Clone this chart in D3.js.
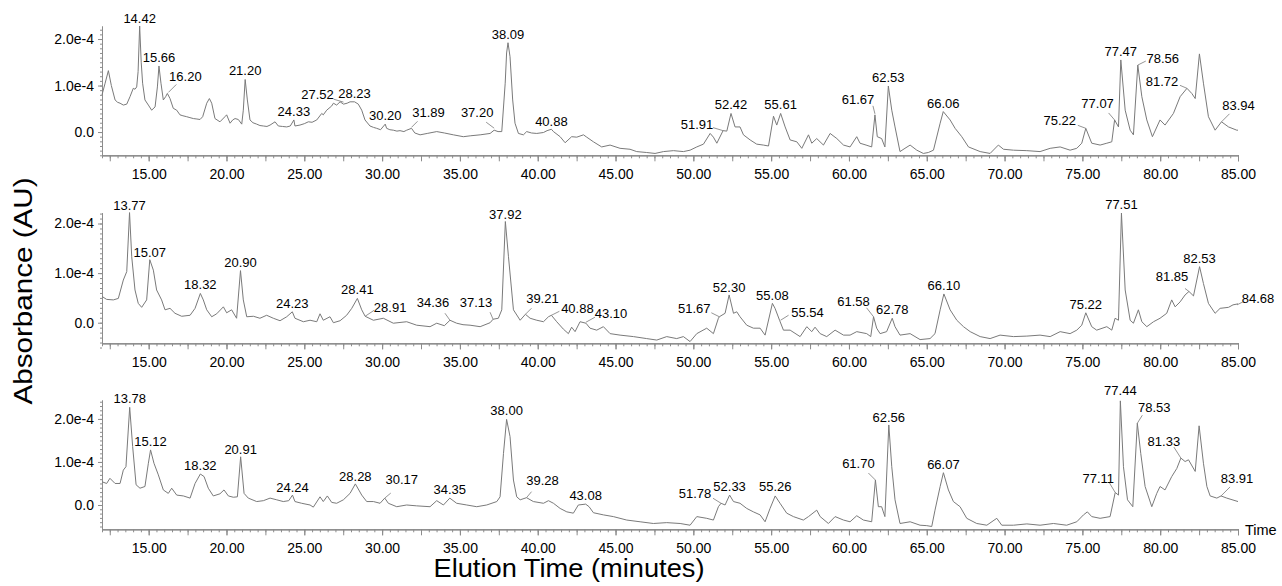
<!DOCTYPE html>
<html>
<head>
<meta charset="utf-8">
<script src="https://cdn.jsdelivr.net/npm/d3@7"></script>
<style>
  body { margin: 0; background: #fff; }
  svg { display: block; font-family: "Liberation Sans", Arial, Helvetica, sans-serif; }
</style>
</head>
<body>
<svg id="chart" width="1282" height="586"></svg>
<script>
// elution time (min), absorbance in units of 1e-4 AU
const run1 = [[12.0,0.80],[12.2,1.05],[12.41,1.32],[12.6,1.0],[12.84,0.69],[13.0,0.64],[13.16,0.62],[13.37,0.58],[13.59,0.60],[13.8,0.76],[14.01,0.94],[14.12,0.92],[14.23,0.97],[14.32,1.3],[14.42,2.28],[14.52,1.5],[14.61,1.05],[14.76,0.69],[14.98,0.58],[15.19,0.47],[15.41,0.54],[15.56,0.97],[15.66,1.42],[15.79,1.05],[15.94,0.69],[16.09,0.76],[16.2,0.83],[16.37,0.72],[16.58,0.51],[16.8,0.47],[17.01,0.37],[17.2,0.35],[17.44,0.33],[17.65,0.31],[17.87,0.29],[18.1,0.28],[18.3,0.27],[18.47,0.33],[18.73,0.62],[18.9,0.72],[19.05,0.62],[19.26,0.29],[19.58,0.22],[19.9,0.33],[20.01,0.37],[20.23,0.19],[20.4,0.26],[20.55,0.29],[20.76,0.27],[20.98,0.17],[21.08,0.47],[21.2,1.13],[21.34,0.69],[21.51,0.26],[21.7,0.2],[21.94,0.17],[22.15,0.14],[22.37,0.13],[22.6,0.12],[22.8,0.15],[23.12,0.22],[23.33,0.13],[23.6,0.12],[23.87,0.11],[24.1,0.13],[24.33,0.26],[24.4,0.13],[24.72,0.15],[25.0,0.18],[25.26,0.22],[25.5,0.21],[25.8,0.26],[26.12,0.4],[26.22,0.37],[26.44,0.47],[26.76,0.56],[26.87,0.62],[27.08,0.58],[27.3,0.65],[27.52,0.6],[27.75,0.62],[27.94,0.65],[28.23,0.65],[28.47,0.6],[28.69,0.47],[28.9,0.26],[29.22,0.13],[29.45,0.1],[29.65,0.08],[29.9,0.05],[30.2,0.17],[30.29,0.08],[30.5,0.05],[30.72,0.04],[30.95,0.02],[31.15,0.03],[31.4,0.01],[31.58,0.04],[31.89,0.08],[32.1,-0.02],[32.44,-0.06],[32.9,-0.03],[33.51,0.01],[34.0,-0.02],[34.58,-0.06],[35.22,-0.1],[35.7,-0.08],[36.3,-0.06],[36.94,-0.03],[37.2,0.04],[37.45,0.01],[37.69,0.01],[37.91,1.05],[38.0,1.7],[38.09,1.92],[38.22,1.62],[38.39,0.69],[38.54,0.19],[38.76,-0.03],[39.08,-0.06],[39.29,0.01],[39.6,-0.02],[39.94,-0.03],[40.37,-0.01],[40.6,0.03],[40.88,0.06],[41.01,0.01],[41.44,-0.1],[41.76,-0.23],[42.18,-0.1],[42.51,-0.11],[42.94,-0.06],[43.15,-0.11],[43.58,-0.21],[44.11,-0.32],[44.65,-0.28],[45.29,-0.35],[45.93,-0.37],[46.36,-0.42],[47.0,-0.44],[47.54,-0.46],[48.08,-0.42],[48.72,-0.4],[49.36,-0.42],[49.79,-0.39],[50.22,-0.32],[50.65,-0.26],[51.08,-0.03],[51.29,-0.11],[51.51,-0.24],[51.91,0.03],[52.15,0.02],[52.42,0.4],[52.68,0.11],[53.0,0.11],[53.22,-0.06],[53.65,-0.17],[54.07,-0.26],[54.5,-0.28],[54.83,-0.3],[55.15,0.34],[55.36,0.15],[55.61,0.4],[55.9,0.11],[56.22,-0.17],[56.65,-0.21],[56.97,-0.35],[57.4,-0.06],[57.61,-0.24],[57.93,-0.14],[58.36,-0.28],[58.79,-0.03],[59.22,-0.14],[59.65,-0.28],[60.07,-0.32],[60.5,-0.1],[60.71,-0.24],[61.1,-0.28],[61.46,-0.32],[61.67,0.37],[61.82,-0.1],[62.1,-0.14],[62.31,-0.32],[62.53,0.99],[62.75,0.47],[62.96,0.11],[63.28,-0.42],[63.6,-0.35],[63.93,-0.28],[64.36,-0.39],[64.78,-0.46],[65.1,-0.44],[65.43,-0.39],[65.86,0.19],[66.06,0.44],[66.5,0.26],[66.82,0.08],[67.25,-0.1],[67.68,-0.32],[68.43,-0.42],[69.07,-0.46],[69.6,-0.28],[69.93,-0.37],[70.57,-0.39],[71.43,-0.4],[72.28,-0.42],[72.93,-0.35],[73.57,-0.32],[74.21,-0.39],[74.64,-0.35],[74.96,-0.24],[75.22,0.08],[75.6,-0.24],[76.14,-0.28],[76.57,-0.24],[76.89,-0.21],[77.07,0.26],[77.32,0.11],[77.47,1.55],[77.75,0.47],[78.07,0.04],[78.28,-0.06],[78.56,1.44],[78.82,0.76],[79.14,0.26],[79.5,-0.1],[79.99,0.26],[80.31,0.15],[80.85,0.4],[81.28,0.76],[81.72,0.94],[82.03,0.83],[82.25,0.72],[82.52,1.68],[82.78,1.05],[83.1,0.33],[83.53,0.04],[83.94,0.22],[84.39,0.11],[84.92,0.04],[85.0,0.04]]

const run2 = [[12.0,0.53],[12.3,0.47],[12.73,0.46],[13.05,0.49],[13.37,0.86],[13.59,1.03],[13.77,2.22],[13.91,1.33],[14.12,0.66],[14.33,0.39],[14.55,0.31],[14.87,0.46],[15.07,1.27],[15.3,1.06],[15.51,0.66],[15.83,0.46],[16.05,0.26],[16.37,0.29],[16.69,0.19],[17.12,0.13],[17.66,0.15],[17.98,0.29],[18.32,0.59],[18.51,0.46],[18.73,0.26],[19.05,0.12],[19.37,0.18],[19.8,0.32],[20.01,0.2],[20.33,0.26],[20.65,0.09],[20.9,1.05],[21.08,0.46],[21.3,0.12],[21.73,0.13],[22.15,0.09],[22.58,0.15],[23.01,0.09],[23.44,0.04],[23.87,0.12],[24.23,0.22],[24.4,0.09],[24.94,0.02],[25.37,0.05],[25.8,0.02],[26.01,0.18],[26.22,0.05],[26.65,0.12],[26.87,0.0],[27.3,0.04],[27.72,0.15],[28.05,0.29],[28.41,0.49],[28.69,0.26],[28.91,0.13],[29.44,0.05],[30.08,0.09],[30.72,-0.01],[31.58,0.02],[32.22,-0.05],[33.08,-0.08],[33.51,-0.01],[34.0,-0.06],[34.36,0.05],[34.79,-0.01],[35.2,-0.04],[35.65,-0.05],[36.3,-0.08],[36.94,0.0],[37.13,0.07],[37.47,0.09],[37.69,0.26],[37.92,2.04],[38.12,1.33],[38.44,0.26],[38.87,0.05],[39.21,0.17],[39.51,0.09],[39.94,0.05],[40.37,0.02],[40.69,0.12],[40.88,0.15],[41.22,0.02],[41.65,-0.13],[41.97,-0.22],[42.18,-0.09],[42.4,-0.18],[42.72,0.02],[43.1,-0.01],[43.36,-0.11],[43.79,-0.15],[44.22,-0.08],[44.65,-0.22],[45.29,-0.25],[46.15,-0.28],[47.0,-0.32],[47.65,-0.35],[48.29,-0.28],[48.93,-0.32],[49.36,-0.28],[49.79,-0.38],[50.22,-0.22],[50.86,-0.11],[51.29,-0.22],[51.61,0.09],[51.67,0.12],[52.04,0.19],[52.3,0.56],[52.58,0.19],[52.79,0.22],[53.0,0.12],[53.43,-0.05],[53.86,-0.11],[54.29,-0.11],[54.61,-0.25],[55.08,0.39],[55.25,0.29],[55.54,0.05],[55.79,-0.15],[56.22,-0.15],[56.86,-0.28],[57.29,-0.08],[57.61,-0.18],[57.82,-0.09],[58.15,-0.22],[58.57,-0.28],[59.11,-0.15],[59.65,-0.25],[60.07,-0.25],[60.5,-0.18],[61.14,-0.22],[61.4,-0.28],[61.58,0.12],[61.78,-0.11],[62.0,-0.22],[62.42,-0.18],[62.78,0.09],[62.96,-0.08],[63.28,-0.25],[63.93,-0.22],[64.57,-0.34],[65.21,-0.32],[65.53,-0.22],[65.86,0.26],[66.1,0.58],[66.5,0.26],[66.93,0.05],[67.36,-0.08],[67.79,-0.18],[68.43,-0.28],[69.07,-0.32],[69.71,-0.25],[70.57,-0.28],[71.43,-0.27],[72.28,-0.25],[72.93,-0.28],[73.57,-0.18],[74.21,-0.22],[74.64,-0.15],[74.96,-0.05],[75.22,0.2],[75.6,-0.08],[75.92,-0.15],[76.57,-0.08],[76.89,-0.15],[77.1,0.09],[77.32,0.05],[77.51,2.21],[77.75,0.66],[78.07,0.05],[78.28,-0.01],[78.6,0.26],[78.82,0.02],[79.14,-0.08],[79.57,0.02],[79.99,0.09],[80.42,0.19],[80.74,0.46],[80.96,0.32],[81.28,0.42],[81.6,0.56],[81.85,0.63],[82.14,0.54],[82.53,1.13],[82.78,0.79],[83.1,0.39],[83.53,0.19],[83.85,0.29],[84.39,0.31],[84.68,0.36],[85.0,0.38]]

const run3 = [[12.0,0.54],[12.3,0.5],[12.51,0.62],[12.84,0.5],[13.16,0.5],[13.37,0.81],[13.54,0.89],[13.78,2.27],[13.97,1.36],[14.19,0.47],[14.44,0.39],[14.76,0.43],[14.98,0.97],[15.12,1.28],[15.34,0.97],[15.62,0.7],[15.94,0.35],[16.26,0.27],[16.48,0.39],[16.8,0.23],[17.23,0.21],[17.66,0.16],[17.98,0.5],[18.32,0.72],[18.56,0.66],[18.83,0.39],[19.15,0.21],[19.58,0.26],[19.84,0.35],[20.12,0.21],[20.44,0.18],[20.7,0.19],[20.91,1.12],[21.13,0.27],[21.4,0.16],[21.94,0.08],[22.37,0.1],[22.8,0.16],[23.23,0.12],[23.65,0.08],[24.0,0.1],[24.24,0.23],[24.4,0.08],[24.83,0.04],[25.37,0.0],[25.58,-0.05],[26.01,0.19],[26.22,0.08],[26.48,0.21],[26.76,0.06],[27.08,0.04],[27.51,0.12],[27.94,0.27],[28.28,0.49],[28.69,0.23],[29.01,0.08],[29.44,0.08],[29.87,0.04],[30.17,0.16],[30.4,0.04],[30.94,-0.04],[31.58,0.0],[32.22,-0.02],[33.08,-0.04],[33.51,0.1],[33.94,0.0],[34.35,0.16],[34.79,0.04],[35.44,0.0],[36.08,-0.04],[36.72,0.0],[37.37,0.08],[37.58,0.19],[37.8,1.2],[38.0,1.99],[38.22,1.59],[38.44,0.58],[38.65,0.19],[38.87,0.12],[39.28,0.17],[39.72,0.08],[40.37,0.04],[40.69,0.1],[41.01,0.04],[41.44,-0.08],[41.87,-0.16],[42.29,-0.19],[42.61,0.0],[43.08,0.02],[43.3,-0.04],[43.58,-0.18],[44.22,-0.23],[44.86,-0.27],[45.72,-0.35],[46.58,-0.39],[47.43,-0.43],[48.29,-0.41],[49.15,-0.43],[49.79,-0.47],[50.22,-0.27],[50.86,-0.31],[51.29,-0.35],[51.61,-0.04],[51.78,0.04],[52.04,0.0],[52.33,0.23],[52.58,0.08],[53.0,0.04],[53.43,-0.08],[53.86,-0.16],[54.29,-0.23],[54.61,-0.39],[54.93,-0.08],[55.26,0.21],[55.57,0.04],[56.0,-0.19],[56.43,-0.27],[57.07,-0.35],[57.4,-0.27],[57.93,-0.12],[58.15,-0.27],[58.68,-0.43],[59.11,-0.27],[59.65,-0.35],[60.07,-0.39],[60.5,-0.25],[60.93,-0.35],[61.46,-0.39],[61.7,0.58],[61.89,-0.04],[62.1,-0.04],[62.31,-0.27],[62.56,1.86],[62.75,0.89],[62.96,0.12],[63.28,-0.43],[63.93,-0.39],[64.57,-0.47],[65.0,-0.48],[65.32,-0.5],[65.53,-0.12],[65.86,0.43],[66.07,0.75],[66.39,0.35],[66.71,0.08],[67.14,-0.04],[67.57,-0.31],[68.21,-0.43],[68.86,-0.47],[69.5,-0.31],[69.82,-0.47],[70.57,-0.47],[71.43,-0.44],[72.28,-0.47],[73.14,-0.43],[73.99,-0.47],[74.64,-0.39],[75.07,-0.23],[75.32,-0.16],[75.6,-0.27],[76.14,-0.31],[76.78,-0.27],[77.11,0.29],[77.32,0.23],[77.44,2.42],[77.64,0.89],[77.9,0.12],[78.24,-0.04],[78.53,1.9],[78.75,1.2],[79.03,0.43],[79.46,-0.04],[79.78,0.27],[79.99,0.43],[80.31,0.35],[80.74,0.66],[81.07,0.85],[81.33,1.09],[81.6,1.01],[81.82,1.05],[82.25,0.78],[82.5,1.84],[82.78,0.97],[83.0,0.43],[83.21,0.21],[83.64,0.16],[83.91,0.21],[84.28,0.16],[85.0,0.08]]

// labelled peak retention times per run
const peaks1 = ['14.42','15.66','16.20','21.20','24.33','27.52','28.23','30.20','31.89','37.20','38.09','40.88','51.91','52.42','55.61','61.67','62.53','66.06','75.22','77.07','77.47','78.56','81.72','83.94']
const peaks2 = ['13.77','15.07','18.32','20.90','24.23','28.41','28.91','34.36','37.13','37.92','39.21','40.88','43.10','51.67','52.30','55.08','55.54','61.58','62.78','66.10','75.22','77.51','81.85','82.53','84.68']
const peaks3 = ['13.78','15.12','18.32','20.91','24.24','28.28','30.17','34.35','38.00','39.28','43.08','51.78','52.33','55.26','61.70','62.56','66.07','77.11','77.44','78.53','81.33','83.91']

const xTickValues = [15, 20, 25, 30, 35, 40, 45, 50, 55, 60, 65, 70, 75, 80, 85]
const yTickValues = [0, 1, 2]

// label placement: [dx, dy, leader x1, y1, x2, y2] relative to the peak (px)
const place1 = {
  '14.42': [0, -3], '16.20': [18, -12, 1, -1, 9, -9], '27.52': [-26, -5, -10, -5, 0, -2],
  '31.89': [17, -11, 0, -1, 6, -7], '37.20': [-17, -13, -8, -8, 0, -2], '40.88': [0, -3],
  '51.91': [-26, -2, -10, -3, 0, 0], '61.67': [-17, -11, -2, -9, 0, -1], '75.22': [-26, -3, -8, -3, 0, 0],
  '77.07': [-17, -12, -6, -7, 0, 0], '78.56': [25, -2, 0, 0, 8, -4], '81.72': [-25, -2, -7, -3, 0, 0],
  '83.94': [17, -12, 0, 0, 8, -8]
}
const place2 = {
  '13.77': [0, -3], '15.07': [0, -3], '37.92': [0, -3], '52.30': [0, -3], '55.08': [0, -3],
  '28.91': [25, -4, 0, 0, 9, -6], '34.36': [-17, -13, -5, -7, 0, 0], '37.13': [-17, -12, -3, -7, 0, 0],
  '39.21': [17, -11, 0, 0, 6, -6], '40.88': [26, -2, 0, 0, 8, -4], '43.10': [25, -5, 0, -1, 9, -6],
  '51.67': [-25, -4, -8, -4, 0, 0], '55.54': [28, -3, 1, 0, 9, -5], '61.58': [-20, -11, -7, -9, 0, 0],
  '81.85': [-17, -10, -4, -3, 0, 0], '84.68': [25, -2, 4, 0, 10, -3]
}
const place3 = {
  '20.91': [0, -3], '24.24': [0, -3], '28.28': [0, -3], '62.56': [0, -3], '55.26': [0, -5], '77.44': [0, -6],
  '30.17': [17, -14, 0, 0, 6, -5], '39.28': [16, -13, 0, 0, 5, -6], '51.78': [-26, -5, -8, -5, 0, 0],
  '61.70': [-17, -12, -7, -7, 0, 0], '77.11': [-17, -10, -6, -10, 0, 0], '78.53': [17, -11, 0, 0, 5, -8],
  '81.33': [-17, -12, -7, -11, 0, 0], '83.91': [16, -13, 0, 0, 9, -9]
}

const panels = [
  { data: run1, peaks: peaks1, place: place1, domain: [-0.5, 2.28], range: [155.3, 26] },
  { data: run2, peaks: peaks2, place: place2, domain: [-0.415, 2.218], range: [343.3, 212.7] },
  { data: run3, peaks: peaks3, place: place3, domain: [-0.565, 2.44], range: [529.3, 400] }
]

const svg = d3.select('#chart')
const traceColor = '#7a7a7a'
const axisColor = '#8c8c8c'

const x = d3.scaleLinear().domain([12, 85]).range([102, 1238])
const yFormat = d => d === 0 ? '0.0' : d.toFixed(1) + 'e-4'

panels.forEach((p, k) => {
  const y = d3.scaleLinear().domain(p.domain).range(p.range)
  const g = svg.append('g')
  const base = p.range[0]

  // x axis: minor every 0.5 min, longer every 2.5 min
  g.append('g')
    .attr('transform', 'translate(0,' + base + ')')
    .call(d3.axisBottom(x).tickValues(d3.range(12, 85.01, 0.5)).tickSize(3).tickSizeOuter(0).tickFormat(''))
  g.append('g')
    .attr('transform', 'translate(0,' + base + ')')
    .call(d3.axisBottom(x).tickValues(d3.range(12.5, 85.01, 2.5)).tickSize(6).tickSizeOuter(0).tickFormat(''))
  g.append('g')
    .attr('transform', 'translate(0,' + base + ')')
    .call(d3.axisBottom(x).tickValues(xTickValues).tickSize(6).tickSizeOuter(0).tickPadding(8).tickFormat(d3.format('.2f')))

  // y axis
  g.append('g')
    .attr('transform', 'translate(102,0)')
    .call(d3.axisLeft(y).tickValues(d3.range(-0.5, p.domain[1], 0.1)).tickSize(2).tickSizeOuter(0).tickFormat(''))
  g.append('g')
    .attr('transform', 'translate(102,0)')
    .call(d3.axisLeft(y).tickValues(yTickValues).tickSize(4).tickSizeOuter(0).tickPadding(4).tickFormat(yFormat))

  g.selectAll('.domain').attr('stroke', axisColor)
  g.selectAll('.tick line').attr('stroke', axisColor)
  g.selectAll('.tick text').attr('font-size', 14).attr('fill', '#000')
    .attr('font-family', '"Liberation Sans", Arial, sans-serif')

  // trace
  const line = d3.line().x(d => x(d[0])).y(d => y(d[1]))
  g.append('path')
    .datum(p.data)
    .attr('d', line)
    .attr('fill', 'none')
    .attr('stroke', traceColor)
    .attr('stroke-width', 1)
    .attr('stroke-linejoin', 'round')

  // peak labels
  p.peaks.forEach(lbl => {
    const t = +lbl
    const pt = p.data.reduce((a, b) => Math.abs(b[0] - t) < Math.abs(a[0] - t) ? b : a)
    const px = x(pt[0]), py = y(pt[1])
    const pl = p.place[lbl] || [0, -4]
    if (pl.length > 2) {
      g.append('line')
        .attr('x1', px + pl[2]).attr('y1', py + pl[3])
        .attr('x2', px + pl[4]).attr('y2', py + pl[5])
        .attr('stroke', traceColor).attr('stroke-width', 0.8)
    }
    g.append('text')
      .attr('x', px + pl[0])
      .attr('y', py + pl[1])
      .attr('text-anchor', 'middle')
      .attr('font-size', 13)
      .attr('fill', '#000')
      .text(lbl)
  })
})

svg.append('text')
  .attr('x', 1245).attr('y', 535)
  .attr('font-size', 14.5)
  .text('Time')

svg.append('text')
  .attr('transform', 'translate(32,291) rotate(-90)')
  .attr('text-anchor', 'middle')
  .attr('font-size', 26)
  .attr('textLength', 227)
  .attr('lengthAdjust', 'spacingAndGlyphs')
  .text('Absorbance (AU)')

svg.append('text')
  .attr('x', 569).attr('y', 577)
  .attr('text-anchor', 'middle')
  .attr('font-size', 25)
  .attr('textLength', 271)
  .attr('lengthAdjust', 'spacingAndGlyphs')
  .text('Elution Time (minutes)')
</script>
</body>
</html>
